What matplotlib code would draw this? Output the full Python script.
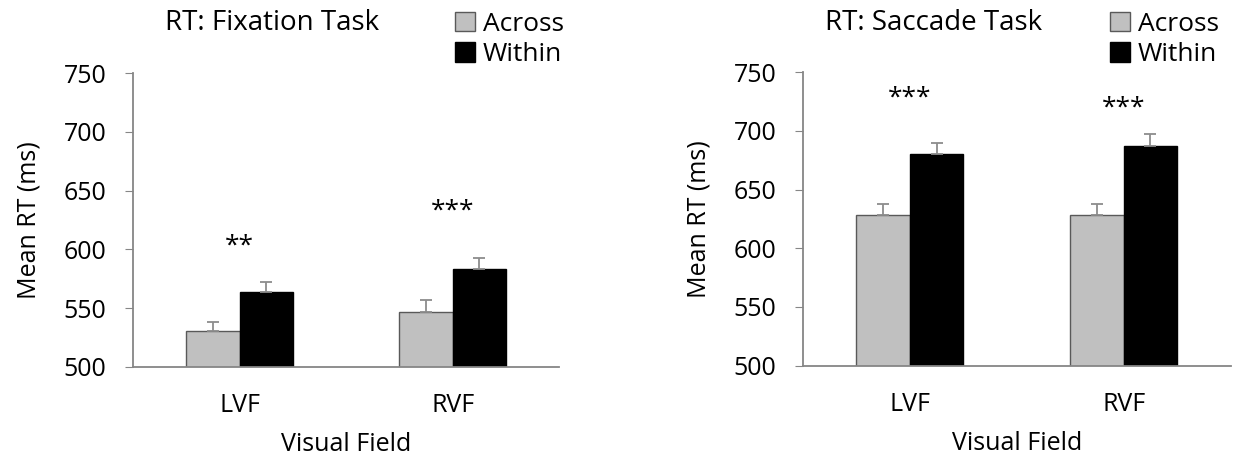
import matplotlib.pyplot as plt
import numpy as np
from matplotlib.patches import Patch

plt.rcParams['font.family'] = ['Open Sans', 'DejaVu Sans']

fields = ["LVF", "RVF"]
conds = ["Across", "Within"]

# Fixation task
fix_across = [531, 547]
fix_across_err = [7, 10]
fix_within = [564, 583]
fix_within_err = [8, 10]
fix_stars = ["**", "***"]
fix_star_y = [603, 633]

# Saccade task
sac_across = [628, 628]
sac_across_err = [10, 10]
sac_within = [680, 687]
sac_within_err = [10, 10]
sac_stars = ["***", "***"]
sac_star_y = [728, 719]

titles = ["RT: Fixation Task", "RT: Saccade Task"]
yticks = [500, 550, 600, 650, 700, 750]

fig = plt.figure(figsize=(12.43, 4.57), dpi=100)
positions = [[0.107, 0.197, 0.343, 0.643], [0.646, 0.200, 0.344, 0.642]]
title_x = [0.219, 0.751]
legend_x = [0.366, 0.893]
panels = [
    (fix_across, fix_across_err, fix_within, fix_within_err, fix_stars, fix_star_y),
    (sac_across, sac_across_err, sac_within, sac_within_err, sac_stars, sac_star_y),
]
spine_col = "#868686"

for i, (a, ae, w, we, stars, sy) in enumerate(panels):
    ax = fig.add_axes(positions[i])
    x = np.arange(len(fields))
    bw = 0.25
    ax.bar(x - bw / 2, a, bw, color="#c0c0c0", edgecolor="#595959", linewidth=1)
    ax.bar(x + bw / 2, w, bw, color="black", edgecolor="black", linewidth=1)
    ax.errorbar(x - bw / 2, a, yerr=[np.zeros(2), ae], fmt="none", ecolor="#8c8c8c",
                capsize=4, elinewidth=1.3, capthick=1.3)
    ax.errorbar(x + bw / 2, w, yerr=[np.zeros(2), we], fmt="none", ecolor="#8c8c8c",
                capsize=4, elinewidth=1.3, capthick=1.3)
    for xi, s, yy in zip(x, stars, sy):
        ax.text(xi, yy, s, ha="center", va="center", fontsize=19)
    ax.set_xlim(-0.5, 1.5)
    ax.set_ylim(500, 750)
    ax.set_yticks(yticks)
    ax.set_xticks(x)
    ax.set_xticklabels(fields)
    ax.tick_params(axis="y", labelsize=18, length=6, color=spine_col, pad=13)
    ax.tick_params(axis="x", labelsize=18, length=0, pad=19)
    for sp in ["top", "right"]:
        ax.spines[sp].set_visible(False)
    for sp in ["left", "bottom"]:
        ax.spines[sp].set_color(spine_col)
        ax.spines[sp].set_linewidth(1.3)
    ax.set_ylabel("Mean RT (ms)", fontsize=18, labelpad=16)
    ax.set_xlabel("Visual Field", fontsize=18, labelpad=10)
    fig.text(title_x[i], 0.950, titles[i], ha="center", va="center", fontsize=20)
    handles = [Patch(facecolor="#c0c0c0", edgecolor="#595959"),
               Patch(facecolor="black", edgecolor="black")]
    fig.legend(handles, conds, loc="upper left", bbox_to_anchor=(legend_x[i], 0.974),
               frameon=False, fontsize=19, handlelength=0.75, handleheight=0.75,
               handletextpad=0.3, labelspacing=0.2, borderaxespad=0, borderpad=0)

fig.savefig("out.png", dpi=100)
